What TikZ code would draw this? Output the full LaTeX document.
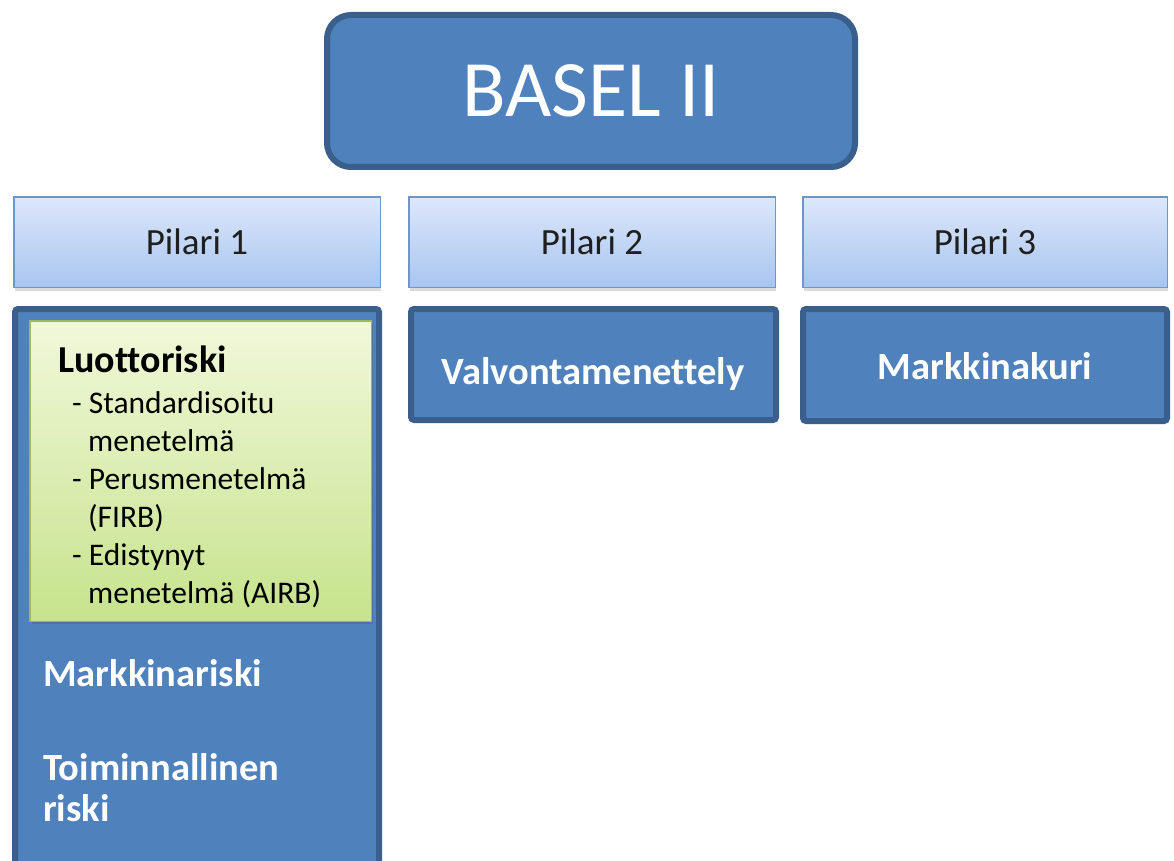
\documentclass[tikz,border=0pt]{standalone}
\usepackage{fontspec}
\setmainfont{Carlito}[Ligatures=CommonOff]
\usetikzlibrary{shadows}
\definecolor{dblue}{HTML}{4F81BD}
\definecolor{dborder}{HTML}{3A5F8C}
\definecolor{ltop}{HTML}{DDE7FA}
\definecolor{lbot}{HTML}{A8C5F0}
\definecolor{lborder}{HTML}{7096C8}
\definecolor{gtop}{HTML}{F1F8DA}
\definecolor{gbot}{HTML}{C6E38C}
\definecolor{gborder}{HTML}{9BBB59}
\tikzset{
  basebox/.style={draw=dborder, line width=6pt, fill=dblue, rounded corners=24pt,
    inner sep=0pt, text=white, font=\fontsize{80}{90}\selectfont},
  pillarbox/.style={draw=lborder, line width=1.5pt, top color=ltop, bottom color=lbot,
    drop shadow={shadow xshift=1pt, shadow yshift=-4pt, opacity=0.2, fill=black!70},
    inner sep=0pt, text=black!88, font=\fontsize{37}{44}\selectfont},
  darkbox/.style={draw=dborder, line width=6pt, fill=dblue, rounded corners=3pt, inner sep=0pt},
  greenbox/.style={draw=gborder, line width=1.5pt, top color=gtop, bottom color=gbot,
    drop shadow={shadow xshift=2pt, shadow yshift=-3pt, opacity=0.25, fill=black!70}, inner sep=0pt},
  whitetxt/.style={font=\bfseries\fontsize{38.5}{46}\selectfont, text=white, inner sep=0pt},
  blacktxt/.style={font=\bfseries\fontsize{38}{46}\selectfont, text=black, inner sep=0pt, anchor=base west},
  itemtxt/.style={font=\fontsize{31.5}{38}\selectfont, text=black, inner sep=0pt, anchor=base west}
}
\begin{document}
\begin{tikzpicture}[x=1pt,y=-1pt]
\useasboundingbox (0,0) rectangle (1174,861);
\fill[white] (0,0) rectangle (1174,861);
\clip (0,0) rectangle (1174,861);

% title
\node[basebox, minimum width=528pt, minimum height=152pt] (basel) at (591,91) {BASEL II};

% pillar headers
\node[pillarbox, minimum width=366.5pt, minimum height=90.5pt] (p1) at (197,242) {Pilari 1};
\node[pillarbox, minimum width=366.5pt, minimum height=90.5pt] (p2) at (592,242) {Pilari 2};
\node[pillarbox, minimum width=364.5pt, minimum height=90.5pt] (p3) at (985,242) {Pilari 3};

% pillar contents
\node[darkbox, minimum width=364pt, minimum height=588pt] (c1) at (197,603) {};
\node[darkbox, minimum width=365pt, minimum height=111pt] (c2) at (593.5,364.5) {};
\node[darkbox, minimum width=364pt, minimum height=112pt] (c3) at (985,365) {};

\node[whitetxt, anchor=base] (t2) at (593,384) {Valvontamenettely};
\node[whitetxt, anchor=base] (t3) at (985,379) {Markkinakuri};

% credit risk box
\node[greenbox, minimum width=341.5pt, minimum height=300.5pt] (g) at (200.5,471) {};
\node[blacktxt] (lr) at (58,372) {Luottoriski};
\node[itemtxt] (i1) at (72,413) {- Standardisoitu};
\node[itemtxt] (i1b) at (88,451) {menetelmä};
\node[itemtxt] (i2) at (72,489) {- Perusmenetelmä};
\node[itemtxt] (i2b) at (88,527) {(FIRB)};
\node[itemtxt] (i3) at (72,565) {- Edistynyt};
\node[itemtxt] (i3b) at (88,603) {menetelmä (AIRB)};

\node[whitetxt, anchor=base west] (mr) at (43,686) {Markkinariski};
\node[whitetxt, anchor=base west] (tr) at (43,780) {Toiminnallinen};
\node[whitetxt, anchor=base west] (tr2) at (43,821) {riski};
\end{tikzpicture}
\end{document}
